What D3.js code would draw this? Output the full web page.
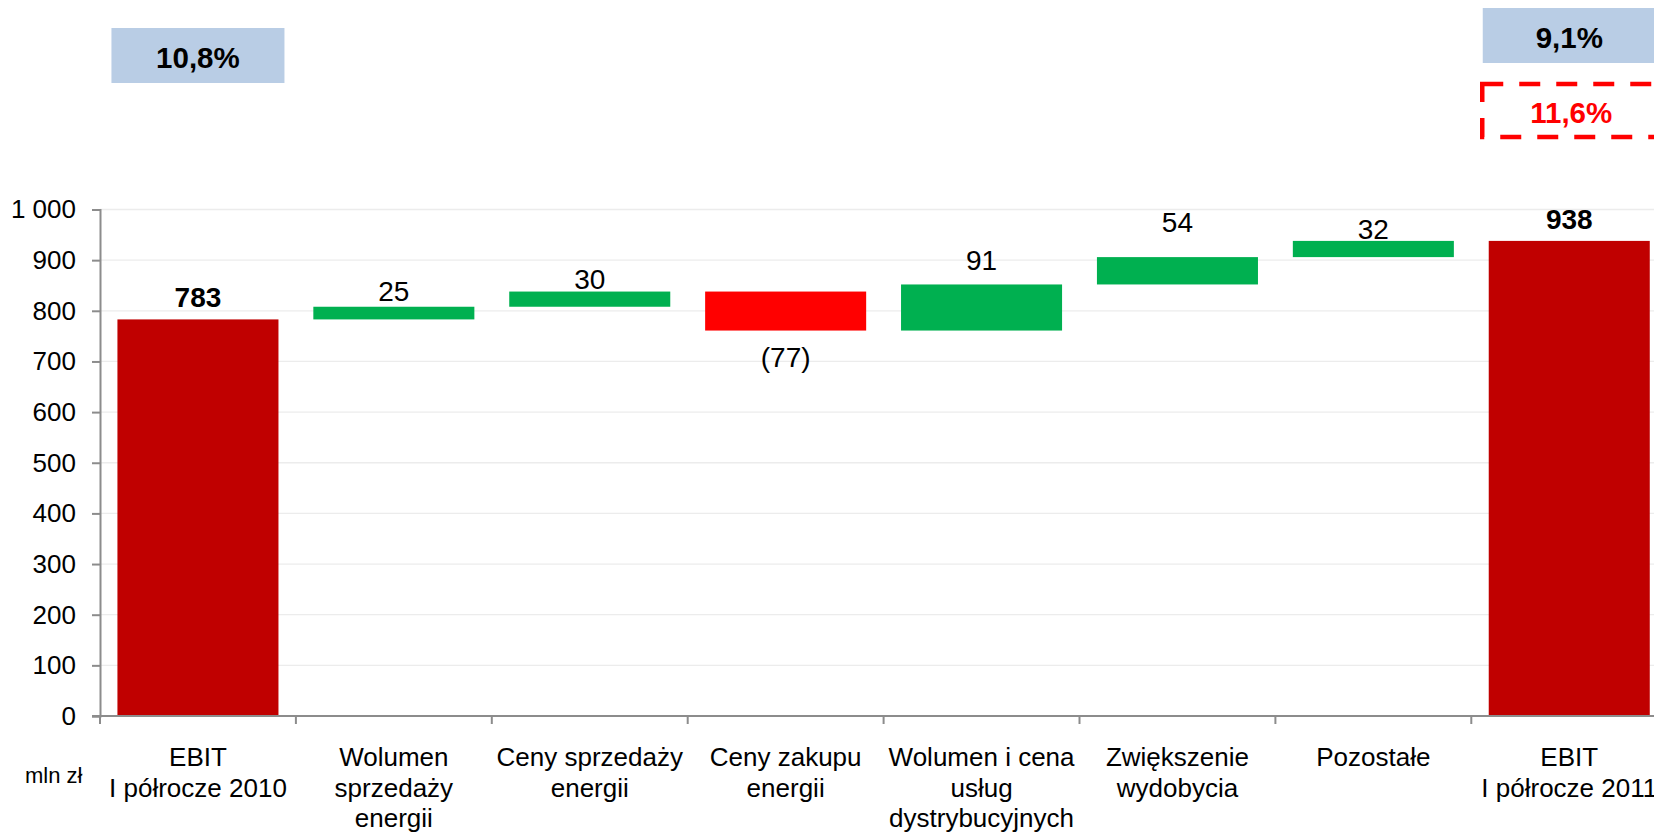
<!DOCTYPE html>
<html>
<head>
<meta charset="utf-8">
<script src="https://cdn.jsdelivr.net/npm/d3@7"></script>
<style>
  body { margin: 0; background: #fff; }
  svg { display: block; font-family: "Liberation Sans", Arial, sans-serif; }
</style>
</head>
<body>
<div id="chart"></div>
<script>
// data
var categories = [
  ["EBIT", "I półrocze 2010"],
  ["Wolumen", "sprzedaży", "energii"],
  ["Ceny sprzedaży", "energii"],
  ["Ceny zakupu", "energii"],
  ["Wolumen i cena", "usług", "dystrybucyjnych"],
  ["Zwiększenie", "wydobycia"],
  ["Pozostałe"],
  ["EBIT", "I półrocze 2011"]
];
var values = [783, 25, 30, -77, 91, 54, 32, 938];
var isTotal = [true, false, false, false, false, false, false, true];
// where Excel put each data label (in mln zł, baseline)
var labelAt = [808, 819, 843, 690, 880, 956, 942, 961];
var yTicks = [0, 100, 200, 300, 400, 500, 600, 700, 800, 900, 1000];
var marginTop = ["10,8%", "9,1%"];   // over first and last bar
var marginAdjusted = "11,6%";        // dashed box, last bar
var unitLabel = "mln zł";

// dimensions
var width = 1654, height = 832;
var plot = {left: 100, top: 209.5, bottom: 716, step: 195.9};

var svg = d3.select("#chart").append("svg")
    .attr("width", width)
    .attr("height", height);

// scales
var x = d3.scaleBand()
    .domain(d3.range(categories.length))
    .range([plot.left, plot.left + plot.step * categories.length])
    .padding(0);
var y = d3.scaleLinear().domain([0, 1000]).range([plot.bottom, plot.top]);

var barW = x.bandwidth() * 0.822;

// running totals for the waterfall
var running = 0;
var bars = values.map(function(v, i) {
  var lo, hi;
  if (isTotal[i]) { lo = 0; hi = v; running = v; }
  else { lo = Math.min(running, running + v); hi = Math.max(running, running + v); running += v; }
  return {i: i, v: v, lo: lo, hi: hi, total: isTotal[i]};
});

// gridlines
svg.append("g").selectAll("line")
    .data(yTicks.filter(function(d) { return d > 0; }))
  .enter().append("line")
    .attr("x1", plot.left).attr("x2", width)
    .attr("y1", function(d) { return y(d); })
    .attr("y2", function(d) { return y(d); })
    .attr("stroke", "#ececec")
    .attr("stroke-width", 1.3);

// bars
svg.append("g").selectAll("rect")
    .data(bars)
  .enter().append("rect")
    .attr("x", function(d) { return x(d.i) + (x.bandwidth() - barW) / 2; })
    .attr("width", barW)
    .attr("y", function(d) { return y(d.hi); })
    .attr("height", function(d) { return y(d.lo) - y(d.hi); })
    .attr("fill", function(d) {
      if (d.total) return "#c00000";
      return d.v < 0 ? "#ff0000" : "#00b050";
    });

// bar labels
svg.append("g").selectAll("text")
    .data(bars)
  .enter().append("text")
    .attr("x", function(d) { return x(d.i) + x.bandwidth() / 2; })
    .attr("y", function(d) { return y(labelAt[d.i]); })
    .attr("text-anchor", "middle")
    .style("font-size", "28px")
    .style("font-weight", function(d) { return d.total ? "bold" : "normal"; })
    .text(function(d) { return d.v < 0 ? "(" + Math.abs(d.v) + ")" : d.v; });

// y axis
var pl = d3.formatLocale({decimal: ",", thousands: " ", grouping: [3], currency: ["", " zł"]});
var yAxis = svg.append("g")
    .attr("transform", "translate(" + plot.left + ",0)")
    .call(d3.axisLeft(y).tickValues(yTicks).tickSize(8).tickPadding(16).tickFormat(pl.format(",d")));
yAxis.select(".domain").attr("stroke", "#8c8c8c").attr("stroke-width", 2);
yAxis.selectAll(".tick line").attr("stroke", "#8c8c8c").attr("stroke-width", 2);
yAxis.selectAll(".tick text")
    .style("font-size", "26px")
    .style("font-family", "Liberation Sans, Arial, sans-serif")
    .attr("fill", "#000");

// x axis line and boundary ticks
svg.append("line")
    .attr("x1", plot.left - 8).attr("x2", width)
    .attr("y1", plot.bottom).attr("y2", plot.bottom)
    .attr("stroke", "#8c8c8c").attr("stroke-width", 2);
svg.append("g").selectAll("line")
    .data(d3.range(categories.length + 1))
  .enter().append("line")
    .attr("x1", function(d) { return plot.left + d * x.step(); })
    .attr("x2", function(d) { return plot.left + d * x.step(); })
    .attr("y1", plot.bottom).attr("y2", plot.bottom + 8)
    .attr("stroke", "#8c8c8c").attr("stroke-width", 2);

// category labels
var cat = svg.append("g").selectAll("text")
    .data(categories)
  .enter().append("text")
    .attr("text-anchor", "middle")
    .style("font-size", "26px")
    .attr("transform", function(d, i) { return "translate(" + (x(i) + x.bandwidth() / 2) + ",766)"; });
cat.selectAll("tspan")
    .data(function(d) { return d; })
  .enter().append("tspan")
    .attr("x", 0)
    .attr("y", function(d, j) { return j * 30.5; })
    .text(function(d) { return d; });

svg.append("text")
    .attr("x", 25).attr("y", 783)
    .style("font-size", "22px")
    .text(unitLabel);

// margin boxes above first and last bars
var boxW = 173;
[0, categories.length - 1].forEach(function(ci, k) {
  var cx = x(ci) + x.bandwidth() / 2;
  var top = k === 0 ? 28 : 8;
  svg.append("rect")
    .attr("x", cx - boxW / 2).attr("y", top)
    .attr("width", boxW).attr("height", 55)
    .attr("fill", "#b9cde5");
  svg.append("text")
    .attr("x", cx).attr("y", top + 39.5)
    .attr("text-anchor", "middle")
    .style("font-size", "29.5px")
    .style("font-weight", "bold")
    .text(marginTop[k]);
});

// dashed box with adjusted margin
var lastCx = x(categories.length - 1) + x.bandwidth() / 2;
svg.append("rect")
    .attr("x", lastCx - 87).attr("y", 84)
    .attr("width", 178).attr("height", 53)
    .attr("fill", "none")
    .attr("stroke", "#ff0000")
    .attr("stroke-width", 4.5)
    .attr("stroke-dasharray", "21,16");
svg.append("text")
    .attr("x", lastCx + 2).attr("y", 123)
    .attr("text-anchor", "middle")
    .style("font-size", "29.5px")
    .style("font-weight", "bold")
    .attr("fill", "#ff0000")
    .text(marginAdjusted);
</script>
</body>
</html>
